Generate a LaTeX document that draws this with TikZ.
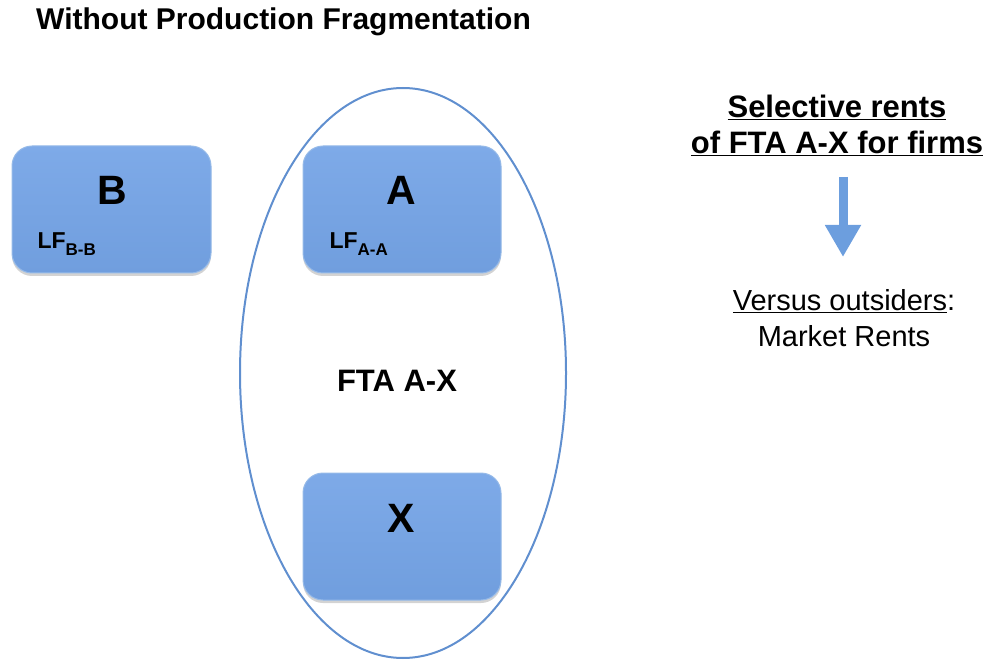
\documentclass[tikz,border=0pt]{standalone}
\usepackage{fontspec}
\setmainfont{Liberation Sans}
\usetikzlibrary{shadows,arrows.meta}
\definecolor{boxtop}{RGB}{126,170,232}
\definecolor{boxbot}{RGB}{112,158,222}
\definecolor{boxedge}{RGB}{150,186,232}
\definecolor{ringblue}{RGB}{96,143,207}
\definecolor{arrowblue}{RGB}{108,158,222}
\tikzset{
  country/.style={rounded corners=20pt, top color=boxtop, bottom color=boxbot,
    draw=boxedge, line width=1pt,
    drop shadow={opacity=0.35, shadow xshift=0pt, shadow yshift=-3pt}},
  bigletter/.style={font=\fontsize{41}{43}\selectfont\bfseries},
  lflabel/.style={font=\fontsize{23}{25}\selectfont\bfseries, anchor=base west},
  headline/.style={font=\fontsize{30}{33}\selectfont\bfseries},
  righthead/.style={font=\fontsize{31}{36}\selectfont\bfseries},
  plain/.style={font=\fontsize{29}{36}\selectfont},
}
\newcommand{\lfsub}[1]{\raisebox{-0.28em}{\fontsize{17}{18}\selectfont #1}}
\begin{document}
\begin{tikzpicture}[x=1pt,y=-1pt]
\useasboundingbox (0,0) rectangle (985,660);
% title
\node[headline, anchor=west, inner sep=0pt] (title) at (36,22) {Without Production Fragmentation};
% free trade area
\draw[ringblue, line width=2pt] (403,373) ellipse [x radius=163, y radius=285];
\node[font=\fontsize{31}{33}\selectfont\bfseries] (fta) at (397,381) {FTA A-X};
% countries
\path[country] (12,146) rectangle (211,273);
\path[country] (303,146) rectangle (501,273);
\path[country] (303,473) rectangle (501,600);
\node[bigletter] (B) at (112,190) {B};
\node[bigletter] (A) at (401,190) {A};
\node[bigletter] (X) at (401,518) {X};
\node[lflabel] (lfb) at (34,249) {LF\lfsub{B-B}};
\node[lflabel] (lfa) at (326,249) {LF\lfsub{A-A}};
% rents
\node[righthead, align=center, inner sep=0pt] (sel) at (837,125)
  {\underline{Selective rents}\\\underline{of FTA A-X for firms}};
\node[plain, align=center, inner sep=0pt] (vs) at (844,318)
  {\underline{Versus outsiders}:\\Market Rents};
\coordinate (arrtop) at (843,177);
\coordinate (arrbot) at (843,257);
\draw[arrowblue, line width=9pt, -{Triangle[width=34pt,length=32pt]}] (arrtop) -- (arrbot);
\end{tikzpicture}
\end{document}
